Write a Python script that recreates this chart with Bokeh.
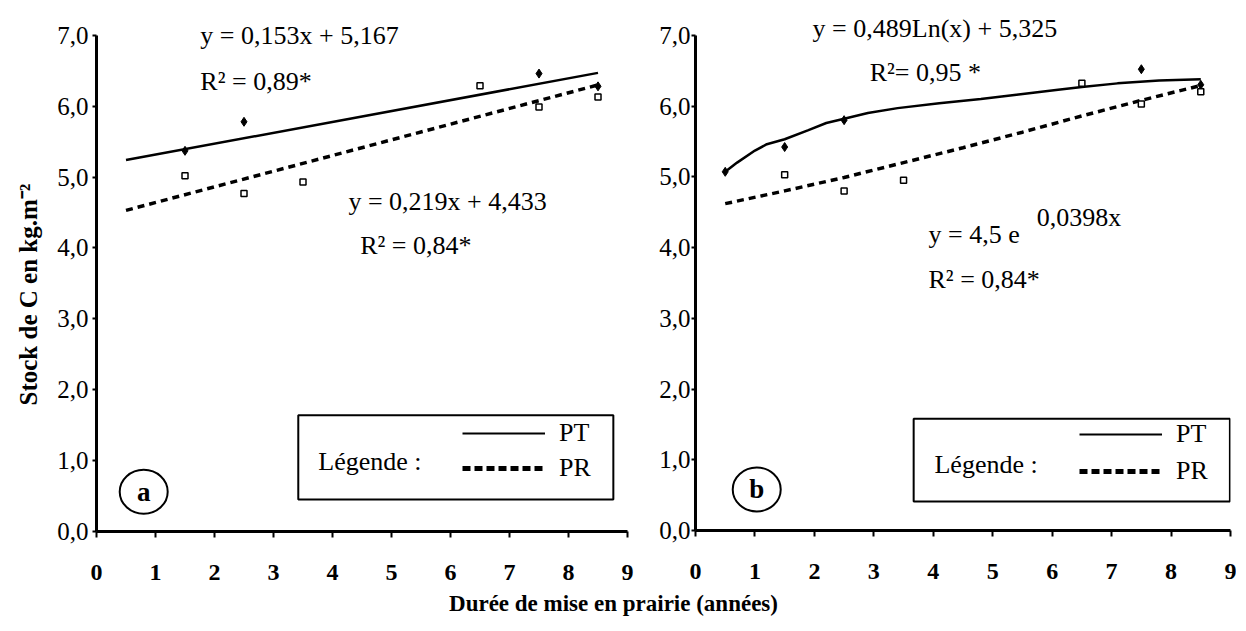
from bokeh.plotting import figure
from bokeh.models import (Label, BoxAnnotation, Legend, LegendItem, FixedTicker, Range1d, Title)
from bokeh.layouts import row, column
from bokeh.embed import file_html
from bokeh.resources import INLINE

FONT = "Liberation Serif"
NAN = float("nan")

# ---------------- data ----------------
x_ticks = [0, 1, 2, 3, 4, 5, 6, 7, 8, 9]
x_tick_labels = ["0", "1", "2", "3", "4", "5", "6", "7", "8", "9"]
y_ticks = [0, 1, 2, 3, 4, 5, 6, 7]
y_tick_labels = ["0,0", "1,0", "2,0", "3,0", "4,0", "5,0", "6,0", "7,0"]

# panel a : PT and PR
a_pt_x = [1.5, 2.5, 7.5, 8.5]
a_pt_y = [5.37, 5.78, 6.46, 6.28]
a_pr_x = [1.5, 2.5, 3.5, 6.5, 7.5, 8.5]
a_pr_y = [5.02, 4.77, 4.93, 6.29, 5.99, 6.13]
a_pt_fit_x = [0.5, 8.5]
a_pt_fit_y = [5.24, 6.47]
a_pr_fit_x = [0.5, 8.5]
a_pr_fit_y = [4.53, 6.30]

# panel b
b_pt_x = [0.5, 1.5, 2.5, 7.5, 8.5]
b_pt_y = [5.07, 5.42, 5.80, 6.52, 6.30]
b_pr_x = [1.5, 2.5, 3.5, 6.5, 7.5, 8.5]
b_pr_y = [5.03, 4.80, 4.95, 6.32, 6.03, 6.20]
b_pt_fit_x = [0.5, 0.7, 1.0, 1.2, 1.5, 1.9, 2.2, 2.5, 2.9, 3.4, 4.1, 4.8, 5.4, 6.1, 6.5, 7.1, 7.8, 8.5]
b_pt_fit_y = [5.07, 5.20, 5.37, 5.46, 5.53, 5.66, 5.76, 5.82, 5.90, 5.97, 6.04, 6.10, 6.16, 6.23, 6.27, 6.32, 6.36, 6.38]
b_pr_fit_x = [0.5, 1.5, 2.5, 3.5, 4.5, 5.5, 6.5, 7.5, 8.5]
b_pr_fit_y = [4.62, 4.80, 4.99, 5.20, 5.41, 5.63, 5.86, 6.08, 6.29]

a_texts = [("y = 0,153x + 5,167", 1.76, 7.00), ("R² = 0,89*", 1.76, 6.35),
           ("y = 0,219x + 4,433", 4.27, 4.65), ("R² = 0,84*", 4.47, 4.03)]
b_texts = [("y = 0,489Ln(x) + 5,325", 1.97, 7.09), ("R²= 0,95 *", 2.93, 6.48),
           ("y = 4,5 e", 3.92, 4.19), ("0,0398x", 5.74, 4.43), ("R² = 0,84*", 3.92, 3.55)]

Y_TOP = 7.35  # room above the axis for the equations


def make_panel(fw, fh, bl, br, bt, bb, ylab_standoff, ybounds):
    p = figure(frame_width=fw, frame_height=fh, x_range=Range1d(0, 9), y_range=Range1d(0, Y_TOP),
               output_backend="svg", toolbar_location=None,
               min_border_left=bl, min_border_right=br, min_border_top=bt, min_border_bottom=bb)
    p.outline_line_color = None
    p.grid.visible = False
    p.background_fill_color = "white"
    p.border_fill_color = "white"

    xa = p.xaxis[0]
    xa.ticker = FixedTicker(ticks=x_ticks)
    xa.major_label_overrides = {t: l for t, l in zip(x_ticks, x_tick_labels)}
    xa.axis_line_width = 3
    xa.axis_line_color = "black"
    xa.major_tick_line_width = 2
    xa.major_tick_line_color = "black"
    xa.major_tick_out = 6
    xa.major_tick_in = 0
    xa.minor_tick_line_color = None
    xa.major_label_text_font = FONT
    xa.major_label_text_font_style = "bold"
    xa.major_label_text_font_size = "24px"
    xa.major_label_text_color = "black"
    xa.major_label_standoff = 27

    ya = p.yaxis[0]
    ya.ticker = FixedTicker(ticks=y_ticks)
    ya.major_label_overrides = {t: l for t, l in zip(y_ticks, y_tick_labels)}
    ya.bounds = ybounds
    ya.axis_line_width = 3
    ya.axis_line_color = "black"
    ya.major_tick_line_width = 2
    ya.major_tick_line_color = "black"
    ya.major_tick_out = 4
    ya.major_tick_in = 0
    ya.minor_tick_line_color = None
    ya.major_label_text_font = FONT
    ya.major_label_text_font_size = "25px"
    ya.major_label_text_color = "black"
    ya.major_label_standoff = ylab_standoff
    return p


def add_legend(p, box, leg_text_pos, leg_loc, row_gap):
    r1 = p.line(x=[NAN], y=[NAN], line_color="black", line_width=2)
    r2 = p.line(x=[NAN], y=[NAN], line_color="black", line_width=5, line_dash="8 4")
    leg = Legend(items=[LegendItem(label="PT", renderers=[r1]), LegendItem(label="PR", renderers=[r2])],
                 location=leg_loc, orientation="vertical", padding=0, margin=0, spacing=row_gap,
                 glyph_width=83, glyph_height=22, label_height=22, label_standoff=14,
                 label_text_font=FONT, label_text_font_size="26px", label_text_color="black",
                 border_line_alpha=0, background_fill_alpha=0)
    p.add_layout(leg)
    p.add_layout(BoxAnnotation(left=box[0], right=box[1], bottom=box[2], top=box[3],
                               fill_color=None, fill_alpha=0, line_color="black", line_width=2,
                               line_alpha=1))
    p.add_layout(Label(x=leg_text_pos[0], y=leg_text_pos[1], text="Légende :", text_font=FONT,
                       text_font_size="26px", text_color="black",
                       text_baseline="middle", text_align="left"))


def add_tag(p, x, y, letter):
    p.ellipse(x=[x], y=[y], width=48, height=44, width_units="screen", height_units="screen",
              fill_color=None, line_color="black", line_width=2)
    p.add_layout(Label(x=x, y=y, text=letter, text_font=FONT, text_font_style="bold",
                       text_font_size="27px", text_color="black",
                       text_align="center", text_baseline="middle"))


def add_texts(p, texts):
    for t, x, y in texts:
        p.add_layout(Label(x=x, y=y, text=t, text_font=FONT, text_font_size="26px",
                           text_color="black", text_baseline="middle", text_align="left"))


# ---------------- panel a ----------------
pa = make_panel(531, 521, 96, 7, 10, 60, 4, (-0.12, 7))
pa.add_layout(Title(text="Stock de C en kg.m⁻²", align="left", offset=126, standoff=25,
                    text_font=FONT, text_font_style="bold", text_font_size="25px",
                    text_color="black"), "left")
pa.line(a_pt_fit_x, a_pt_fit_y, line_color="black", line_width=2.5)
pa.line(a_pr_fit_x, a_pr_fit_y, line_color="black", line_width=3.5, line_dash="7 5")
pa.scatter(a_pt_x, a_pt_y, marker="diamond", size=9, color="black")
pa.scatter(a_pr_x, a_pr_y, marker="square", size=6, fill_color="white", line_color="black", line_width=1.5)
add_texts(pa, a_texts)
add_legend(pa, (3.42, 8.76, 0.45, 1.64), (3.76, 0.99), (366, 48), 5)
add_tag(pa, 0.8, 0.56, "a")

# ---------------- panel b ----------------
pb = make_panel(535, 520, 61, 6, 6, 65, 1, (0, 7))
pb.line(b_pt_fit_x, b_pt_fit_y, line_color="black", line_width=2.5)
pb.line(b_pr_fit_x, b_pr_fit_y, line_color="black", line_width=3.5, line_dash="7 5")
pb.scatter(b_pt_x, b_pt_y, marker="diamond", size=9, color="black")
pb.scatter(b_pr_x, b_pr_y, marker="square", size=6, fill_color="white", line_color="black", line_width=1.5)
add_texts(pb, b_texts)
add_legend(pb, (3.67, 8.99, 0.41, 1.58), (4.02, 0.93), (384, 44), 7)
add_tag(pb, 1.03, 0.58, "b")

# ---------------- shared x title ----------------
pc = figure(width=1236, height=40, x_range=Range1d(0, 1), y_range=Range1d(0, 1),
            output_backend="svg", toolbar_location=None, min_border=0, margin=(-8, 0, 0, 0))
pc.axis.visible = False
pc.grid.visible = False
pc.outline_line_color = None
pc.background_fill_alpha = 0
pc.border_fill_alpha = 0
pc.add_layout(Label(x=613 / 1236, y=0.5, text="Durée de mise en prairie (années)", text_font=FONT,
                    text_font_style="bold", text_font_size="23px", text_color="black",
                    text_align="center", text_baseline="middle"))

layout = column(row(pa, pb, spacing=0), pc, spacing=0)
open("out.html", "w").write(file_html(layout, INLINE))
